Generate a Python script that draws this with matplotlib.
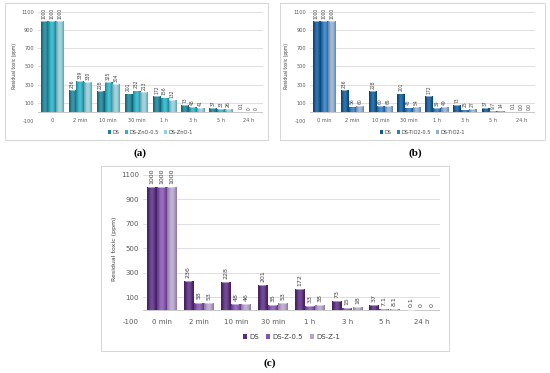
import matplotlib.pyplot as plt
import matplotlib.patches as mpatches
import matplotlib.colors as mcolors
import numpy as np

plt.rcParams['axes.unicode_minus'] = False

times_a = ['0', '2 min', '10 min', '30 min', '1 h', '3 h', '5 h', '24 h']
times = ['0 min', '2 min', '10 min', '30 min', '1 h', '3 h', '5 h', '24 h']

ds = [1000, 236, 228, 201, 172, 73, 37, 0.1]

zno_05 = [1000, 339, 325, 232, 156, 48, 33, 0]
zno_1 = [1000, 330, 304, 213, 132, 41, 26, 0]

tio2_05 = [1000, 56, 60, 45, 39, 25, 9.7, 0.0]
tio2_1 = [1000, 60, 65, 54, 49, 27, 14, 0.0]

z_05 = [1000, 58, 48, 35, 33, 15, 7.1, 0]
z_1 = [1000, 53, 46, 53, 38, 18, 8.1, 0]

fig = plt.figure(figsize=(5.5, 3.73), dpi=100)


def fmt(v, zero='0'):
    if v == 0:
        return zero
    return '{:g}'.format(v)


def shade(ax, bars, color):
    # cylinder-like horizontal gradient on each bar
    base = np.array(mcolors.to_rgb(color))
    t = np.linspace(0, 1, 40)
    k = np.sin(np.pi * t) ** 0.8
    img = np.empty((1, len(t), 3))
    for j in range(len(t)):
        light = 0.35 * max(0, k[j] - 0.55)
        img[0, j] = (base * (0.72 + 0.28 * k[j])) * (1 - light) + light
    img = np.clip(img, 0, 1)
    for r in bars:
        h = r.get_height()
        if h <= 0:
            continue
        x0, w = r.get_x(), r.get_width()
        im = ax.imshow(img, extent=[x0, x0 + w, 0, h], aspect='auto',
                       zorder=3.2, interpolation='bicubic')
        im.set_clip_path(r)
        ax.add_patch(mpatches.Rectangle((x0 + w * 0.12, h - 8), w * 0.76, 9,
                                        fc='white', alpha=0.45, ec='none',
                                        zorder=3.4))


def panel(rect, box, cats, series, names, colors, fs, zero='0', bw=0.26):
    # frame around the panel
    fig.patches.append(mpatches.Rectangle((box[0], box[1]), box[2], box[3],
                                          transform=fig.transFigure,
                                          fill=False, ec='#d0d0d0', lw=0.6))
    ax = fig.add_axes(rect)
    x = np.arange(len(cats))
    handles = []
    for i, (vals, c) in enumerate(zip(series, colors)):
        xs = x + (i - 1) * (bw + 0.015)
        b = ax.bar(xs, vals, width=bw, color=c, ec='none', zorder=3)
        shade(ax, b, c)
        handles.append(b)
        for xx, v in zip(xs, vals):
            ax.text(xx, v + 25, fmt(v, zero), rotation=90, ha='center',
                    va='bottom', fontsize=fs * 0.9, color='#404040', zorder=4)
    ax.set_ylim(-100, 1100)
    ax.set_xlim(-0.5, len(cats) - 0.5)
    ax.set_yticks(np.arange(-100, 1101, 200))
    ax.grid(axis='y', color='#d9d9d9', lw=0.6, zorder=0)
    ax.axhline(0, color='#bfbfbf', lw=0.6, zorder=2)
    ax.set_xticks([])
    for xx, c in zip(x, cats):
        ax.text(xx, -100, c, ha='center', va='center', fontsize=fs,
                color='#595959', zorder=5,
                bbox=dict(boxstyle='square,pad=0.15', fc='white', ec='none'))
    for s in ax.spines.values():
        s.set_visible(False)
    ax.tick_params(axis='y', length=0, labelsize=fs, labelcolor='#595959', pad=3)
    ax.set_ylabel('Residual toxic (ppm)', fontsize=fs * 0.9, color='#404040',
                  labelpad=3)
    ax.legend(handles, names, loc='upper center', bbox_to_anchor=(0.5, -0.04),
              ncol=3, frameon=False, fontsize=fs, handlelength=0.6,
              handleheight=0.6, handletextpad=0.3, columnspacing=1.0,
              labelcolor='#404040')
    return ax


panel([0.069, 0.676, 0.409, 0.292], [0.009, 0.625, 0.478, 0.367],
      times_a, [ds, zno_05, zno_1], ['DS', 'DS-ZnO-0.5', 'DS-ZnO-1'],
      ['#1a8299', '#29b3c9', '#8fd1de'], 3.6)

panel([0.564, 0.676, 0.409, 0.292], [0.509, 0.625, 0.482, 0.367],
      times, [ds, tio2_05, tio2_1], ['DS', 'DS-TiO2-0.5', 'DS-TiO2-1'],
      ['#0f5a9c', '#2a7cc4', '#8fb0d8'], 3.6, zero='0.0')

panel([0.26, 0.137, 0.54, 0.394], [0.184, 0.058, 0.632, 0.497],
      times, [ds, z_05, z_1], ['DS', 'DS-Z-0.5', 'DS-Z-1'],
      ['#5a2b82', '#8753b3', '#b9a3cf'], 5.0)

cap = dict(ha='center', va='center', fontsize=8, family='Liberation Serif',
           fontweight='bold')
fig.text(0.255, 0.59, '(a)', **cap)
fig.text(0.755, 0.59, '(b)', **cap)
fig.text(0.49, 0.027, '(c)', **cap)

fig.savefig('out.png', dpi=100)
